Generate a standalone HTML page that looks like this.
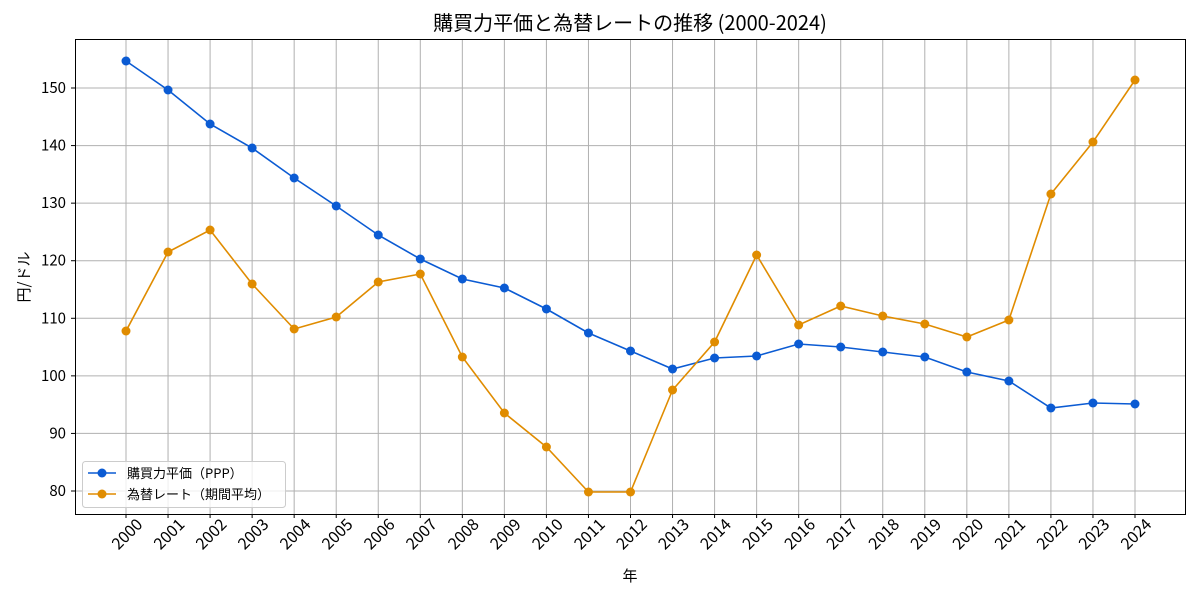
<!DOCTYPE html>
<html><head><meta charset="utf-8"><style>body{margin:0;background:#fff}svg{display:block}text{font-family:"Noto Sans CJK JP","Liberation Sans",sans-serif;fill:#000}</style></head>
<body>
<svg width="1200" height="600" xmlns="http://www.w3.org/2000/svg">
<rect width="1200" height="600" fill="#fff"/>
<g id="grid" stroke="#b0b0b0" stroke-width="1"></g>
<g id="ticks"></g>
<rect x="75.5" y="39.5" width="1110" height="475" fill="none" stroke="#000" stroke-width="1"/>
<g id="series"></g>
<text x="630" y="30" font-size="20" text-anchor="middle">購買力平価と為替レートの推移 (2000-2024)</text>
<text x="630" y="581" font-size="15" text-anchor="middle">年</text>
<text transform="translate(29,277) rotate(-90)" font-size="15" text-anchor="middle">円/ドル</text>
<g>
<rect x="82.5" y="461.5" width="203" height="46" rx="3" fill="#fff" fill-opacity="0.8" stroke="#ccc"/>
<line x1="88" y1="473" x2="116" y2="473" stroke="#0b5bd3" stroke-width="1.5"/><circle cx="102" cy="473" r="4.5" fill="#0b5bd3"/>
<text x="127" y="478" font-size="13">購買力平価（PPP）</text>
<line x1="88" y1="494" x2="116" y2="494" stroke="#e08c00" stroke-width="1.5"/><circle cx="102" cy="494" r="4.5" fill="#e08c00"/>
<text x="127" y="499" font-size="13">為替レート（期間平均）</text>
</g>
<script>
const ns="http://www.w3.org/2000/svg";
function el(t,a,p){const e=document.createElementNS(ns,t);for(const k in a)e.setAttribute(k,a[k]);document.getElementById(p).appendChild(e);return e;}
const X=i=>126+i*1009/24, Y=v=>491-(v-80)*5.757;
for(let i=0;i<25;i++){const x=X(i);el("line",{x1:x,y1:40,x2:x,y2:514},"grid");el("line",{x1:x,y1:514,x2:x,y2:518,stroke:"#000"},"ticks");
const t=el("text",{transform:`translate(${x+5},${538}) rotate(-45)`,"font-size":16,"text-anchor":"middle"},"ticks");t.textContent=2000+i;}
for(let v=80;v<=150;v+=10){const y=Y(v);el("line",{x1:76,y1:y,x2:1185,y2:y},"grid");el("line",{x1:71,y1:y,x2:75,y2:y,stroke:"#000"},"ticks");
const t=el("text",{x:66,y:y+5,"font-size":15,"text-anchor":"end"},"ticks");t.textContent=v;}
const ppp=[61,90,124,148,178,206,235,259,279,288,309,333,351,369,358,356,344,347,352,357,372,381,408,403,404];
const fx=[331,252,230,284,329,317,282,274,357,413,447,492,492,390,342,255,325,306,316,324,337,320,194,142,80];
[[ppp,"#0b5bd3"],[fx,"#e08c00"]].forEach(([d,c])=>{el("polyline",{points:d.map((y,i)=>X(i)+","+y).join(" "),fill:"none",stroke:c,"stroke-width":1.6},"series");
d.forEach((y,i)=>el("circle",{cx:X(i),cy:y,r:4.5,fill:c},"series"));});
</script>
</svg>
</body></html>
